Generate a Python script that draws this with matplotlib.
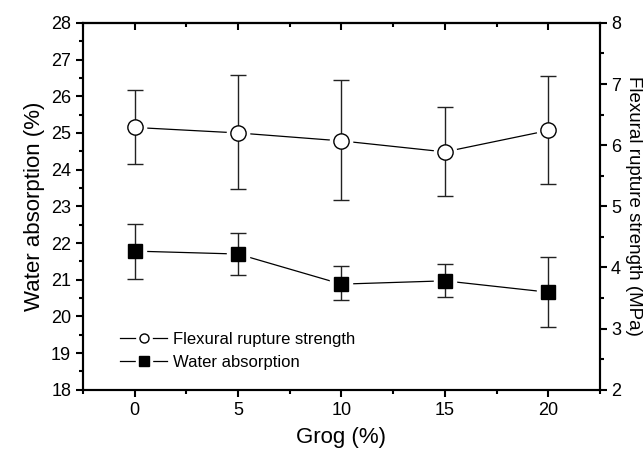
import matplotlib
matplotlib.use("Agg")
import matplotlib.pyplot as plt
from matplotlib.lines import Line2D
from matplotlib.legend_handler import HandlerTuple
from matplotlib.ticker import MultipleLocator

plt.rcParams['font.family'] = ['Liberation Sans', 'DejaVu Sans']

grog = [0, 5, 10, 15, 20]

# water absorption (%), left axis
water = [21.78, 21.70, 20.88, 20.97, 20.66]
water_lo = [21.03, 21.14, 20.44, 20.52, 19.70]
water_hi = [22.52, 22.28, 21.37, 21.44, 21.62]

# flexural rupture strength (MPa), right axis
flex = [6.29, 6.20, 6.07, 5.89, 6.24]
flex_lo = [5.69, 5.28, 5.10, 5.17, 5.36]
flex_hi = [6.90, 7.14, 7.07, 6.63, 7.13]

fig = plt.figure(figsize=(6.43, 4.57), dpi=100)
ax = fig.add_axes([0.129, 0.147, 0.804, 0.803])
ax2 = ax.twinx()

def draw(axis, y, lo, hi, marker, face):
    yerr = [[v - l for v, l in zip(y, lo)], [h - v for v, h in zip(y, hi)]]
    axis.plot(grog, y, color='black', lw=0.9, zorder=1)
    # white halo so the connecting line stops short of the marker
    axis.plot(grog, y, ls='none', marker=marker, ms=16, mfc='white', mec='white', zorder=2)
    axis.errorbar(grog, y, yerr=yerr, fmt='none', ecolor='#222222', elinewidth=1.0,
                  capsize=5.5, capthick=1.0, zorder=3)
    axis.plot(grog, y, ls='none', marker=marker, ms=11 if marker == 'o' else 10,
              mfc=face, mec='black', mew=1.0, zorder=4)

draw(ax, water, water_lo, water_hi, 's', 'black')
draw(ax2, flex, flex_lo, flex_hi, 'o', 'white')

ax.set_xlim(-2.5, 22.5)
ax.set_ylim(18, 28)
ax2.set_ylim(2, 8)

ax.xaxis.set_major_locator(MultipleLocator(5))
ax.xaxis.set_minor_locator(MultipleLocator(2.5))
ax.yaxis.set_major_locator(MultipleLocator(1))
ax.yaxis.set_minor_locator(MultipleLocator(0.5))
ax2.yaxis.set_major_locator(MultipleLocator(1))
ax2.yaxis.set_minor_locator(MultipleLocator(0.5))

for a in (ax, ax2):
    for s in a.spines.values():
        s.set_linewidth(1.5)
ax.tick_params(axis='both', which='major', direction='out', length=5, width=1.5, labelsize=13)
ax.tick_params(axis='both', which='minor', direction='out', length=3, width=1.5)
ax2.tick_params(axis='y', which='major', direction='out', length=5, width=1.5, labelsize=13, pad=3)
ax2.tick_params(axis='y', which='minor', direction='out', length=3, width=1.5)

top = ax.secondary_xaxis('top')
top.xaxis.set_major_locator(MultipleLocator(5))
top.xaxis.set_minor_locator(MultipleLocator(2.5))
top.tick_params(which='major', direction='in', length=5, width=1.5, labeltop=False)
top.tick_params(which='minor', direction='in', length=3, width=1.5)
top.spines['top'].set_linewidth(1.5)

ax.set_xlabel('Grog (%)', fontsize=16, labelpad=6)
ax.set_ylabel('Water absorption (%)', fontsize=16, labelpad=4)
ax2.set_ylabel('Flexural rupture strength (MPa)', fontsize=13.5, rotation=-90, labelpad=15)

def legend_handle(marker, face):
    line = Line2D([], [], color='black', lw=0.9)
    halo = Line2D([], [], ls='none', marker=marker, ms=11, mfc='white', mec='white')
    mark = Line2D([], [], ls='none', marker=marker, ms=6.5, mfc=face, mec='black', mew=1.0)
    return (line, halo, mark)

ax.legend([legend_handle('o', 'white'), legend_handle('s', 'black')],
          ['Flexural rupture strength', 'Water absorption'],
          handler_map={tuple: HandlerTuple(ndivide=1)},
          loc='center left', bbox_to_anchor=(0.072, 0.106), frameon=False, fontsize=12,
          handlelength=2.8, handletextpad=0.36, labelspacing=0.5, borderpad=0,
          borderaxespad=0)

fig.savefig('out.png', dpi=100)
